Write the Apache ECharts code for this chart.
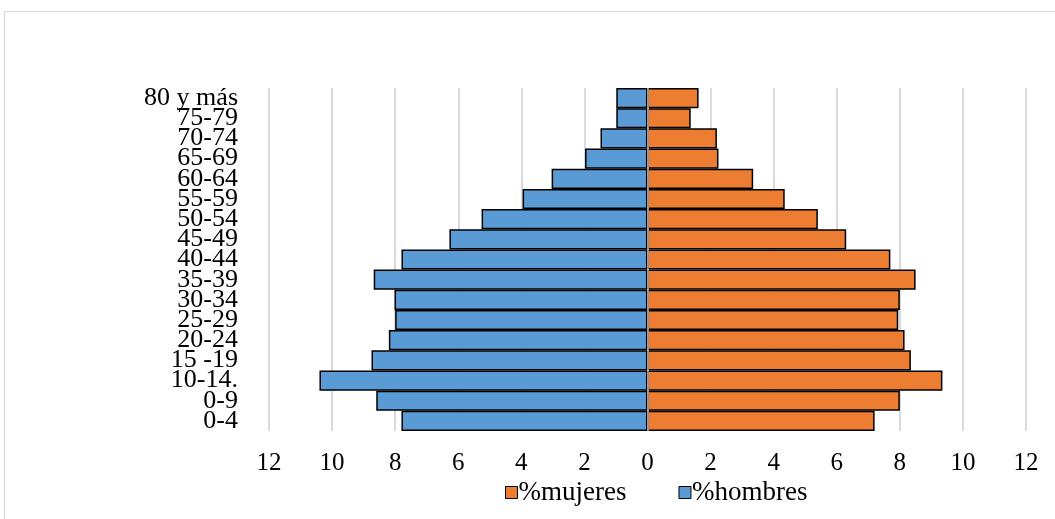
<!DOCTYPE html>
<html>
<head>
<meta charset="utf-8">
<script src="https://cdn.jsdelivr.net/npm/echarts@6/dist/echarts.min.js"></script>
<style>html,body{margin:0;padding:0;background:#fff;}#c{width:1055px;height:519px;}</style>
</head>
<body>
<div id="c"></div>
<script>
var categories = ['0-4','0-9','10-14.','15 -19','20-24','25-29','30-34','35-39','40-44','45-49','50-54','55-59','60-64','65-69','70-74','75-79','80 y más'];
var mujeres = [7.2, 8.0, 9.35, 8.35, 8.15, 7.95, 8.0, 8.5, 7.7, 6.3, 5.4, 4.35, 3.35, 2.25, 2.2, 1.37, 1.62];
var hombres = [7.8, 8.6, 10.4, 8.75, 8.2, 8.0, 8.02, 8.68, 7.8, 6.28, 5.26, 3.96, 3.04, 1.98, 1.49, 0.99, 0.99];
var xTicks = [-12, 12, 2];

var font = '"Liberation Serif", "Times New Roman", serif';
var chart = echarts.init(document.getElementById('c'));
chart.setOption({
  animation: false,
  graphic: [{type: 'rect', shape: {x: 4.5, y: 11.5, width: 1060, height: 520}, style: {fill: 'none', stroke: '#d9d9d9', lineWidth: 1}, silent: true}],
  grid: {left: 269, right: 29, top: 88, bottom: 88},
  legend: {
    bottom: 8, left: 500, itemWidth: 12, itemHeight: 12, itemGap: 52,
    icon: 'rect',
    textStyle: {fontFamily: font, fontSize: 27, color: '#000', padding: [0,0,0,-4]},
    data: [{name: '%mujeres', itemStyle: {borderColor: '#000', borderWidth: 1}}, {name: '%hombres', itemStyle: {borderColor: '#000', borderWidth: 1}}]
  },
  xAxis: {
    type: 'value', min: xTicks[0], max: xTicks[1], interval: xTicks[2],
    axisLine: {show: false}, axisTick: {show: false},
    axisLabel: {margin: 20, fontFamily: font, fontSize: 25, color: '#000', formatter: function (v) { return Math.abs(v); }},
    splitLine: {lineStyle: {color: '#d9d9d9', width: 2}}
  },
  yAxis: {
    type: 'category', data: categories,
    axisLine: {show: false}, axisTick: {show: false},
    axisLabel: {margin: 31, fontFamily: font, fontSize: 26, color: '#000', interval: 0}
  },
  series: [
    {
      name: '%mujeres', type: 'bar', stack: 'a', barCategoryGap: '0%',
      data: mujeres,
      itemStyle: {color: '#ED7D31', borderColor: '#000', borderWidth: 1.5},
      markLine: {silent: true, symbol: 'none', label: {show: false}, lineStyle: {color: '#bfbfbf', width: 1.5, type: 'solid'}, data: [{xAxis: 0}]}
    },
    {
      name: '%hombres', type: 'bar', stack: 'a', barCategoryGap: '0%',
      data: hombres.map(function (v) { return -v; }),
      itemStyle: {color: '#5B9BD5', borderColor: '#000', borderWidth: 1.5}
    }
  ]
});
</script>
</body>
</html>
